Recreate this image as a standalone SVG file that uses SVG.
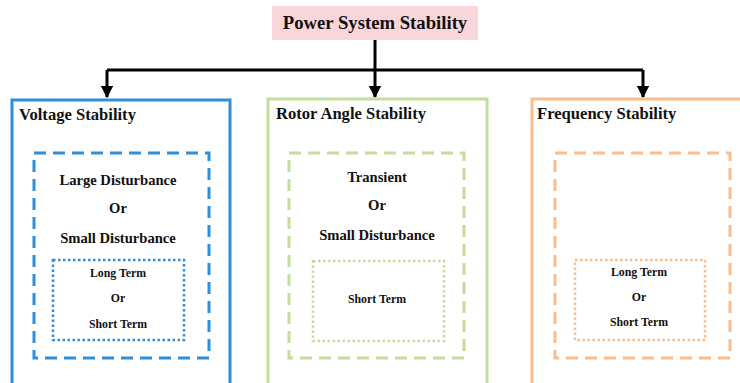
<svg xmlns="http://www.w3.org/2000/svg" width="740" height="383" viewBox="0 0 740 383">
<defs>
<style>
text{font-family:"Liberation Serif","Times New Roman",serif;font-weight:bold;fill:#111}
.t0{font-size:18.7px;text-anchor:middle}
.t1{font-size:16.6px}
.t2{font-size:14.6px;text-anchor:middle}
.t3{font-size:11.8px;text-anchor:middle}
.solid{fill:#fff;stroke-width:3}
.dash{fill:none;stroke-width:3;stroke-dasharray:12 7}
.dot{fill:none;stroke-width:2.5;stroke-dasharray:2.5 2.5}
.blue{stroke:#2f8fd8}
.green{stroke:#c3dd9d}
.orange{stroke:#fbbd8c}
.conn{fill:none;stroke:#000;stroke-width:3}
</style>
<marker id="arr" viewBox="0 0 10 10" refX="9" refY="5" markerWidth="4.2" markerHeight="4.2" orient="auto" markerUnits="strokeWidth">
<path d="M0,0 L10,5 L0,10 z" fill="#000"/>
</marker>
</defs>
<g id="title">
<rect x="272" y="6" width="206" height="34" fill="#f9d6d9"/>
<text class="t0" x="375" y="29">Power System Stability</text>
</g>
<g id="connectors">
<path class="conn" d="M375,40 V70"/>
<path class="conn" d="M107,70 H643"/>
<path class="conn" d="M107,70 V97" marker-end="url(#arr)"/>
<path class="conn" d="M375,70 V97" marker-end="url(#arr)"/>
<path class="conn" d="M643,70 V97" marker-end="url(#arr)"/>
</g>
<g id="voltage">
<rect class="solid blue" x="12" y="100" width="218" height="300"/>
<text class="t1" x="19" y="120">Voltage Stability</text>
<rect class="dash blue" x="34" y="153" width="175" height="205"/>
<text class="t2" x="118" y="185">Large Disturbance</text>
<text class="t2" x="118" y="213">Or</text>
<text class="t2" x="118" y="243">Small Disturbance</text>
<rect class="dot blue" x="53" y="260" width="131" height="80"/>
<text class="t3" x="118" y="277">Long Term</text>
<text class="t3" x="118" y="302">Or</text>
<text class="t3" x="118" y="328">Short Term</text>
</g>
<g id="rotor">
<rect class="solid green" x="268" y="99" width="219" height="300"/>
<text class="t1" x="276" y="119">Rotor Angle Stability</text>
<rect class="dash green" x="289" y="153" width="175" height="205"/>
<text class="t2" x="377" y="182">Transient</text>
<text class="t2" x="377" y="210">Or</text>
<text class="t2" x="377" y="240">Small Disturbance</text>
<rect class="dot green" x="313" y="261" width="131" height="80"/>
<text class="t3" x="377" y="303">Short Term</text>
</g>
<g id="frequency">
<rect class="solid orange" x="532" y="99" width="220" height="300"/>
<text class="t1" x="537" y="119">Frequency Stability</text>
<rect class="dash orange" x="555" y="153" width="175" height="205"/>
<rect class="dot orange" x="575" y="260" width="130" height="80"/>
<text class="t3" x="639" y="276">Long Term</text>
<text class="t3" x="639" y="301">Or</text>
<text class="t3" x="639" y="326">Short Term</text>
</g>
</svg>
